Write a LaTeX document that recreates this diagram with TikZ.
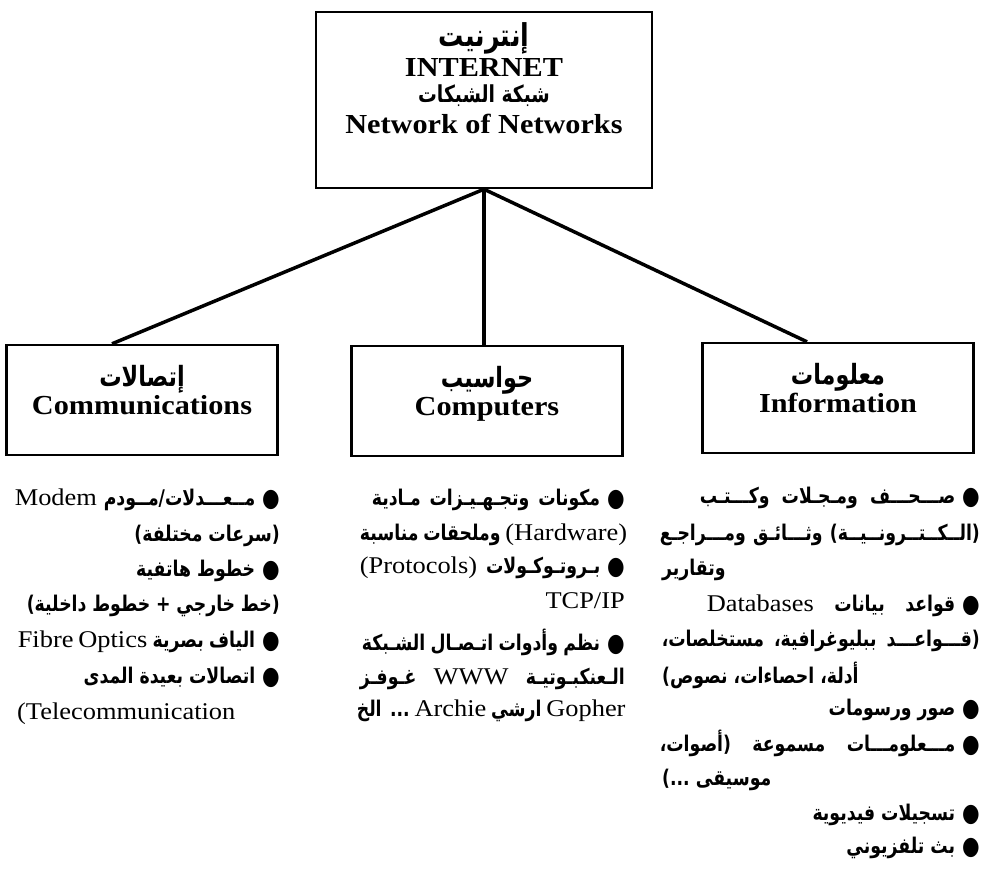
\documentclass[tikz,border=0pt]{standalone}
\usepackage{fontspec}
\setmainfont{Liberation Serif}[FakeStretch=1.1]
\newfontfamily\arabicfont[Script=Arabic,Scale=0.9,FakeStretch=0.8]{DejaVu Sans}
\TeXXeTstate=1
\usetikzlibrary{positioning}
\newcommand\ar{\arabicfont\bfseries}
\newcommand\latn[1]{\beginL{\spaceskip=0pt\rmfamily\mdseries #1}\endL}
\newcommand\bul{{\fontsize{28}{28}\selectfont\raisebox{-1pt}{●}}\hskip 7pt\relax}
\newcommand\jline[2]{\hbox to #1pt{\spaceskip=.3em plus 1fil minus .1em\relax#2}}
\tikzstyle{topbox}=[draw,line width=2.4pt,minimum width=336pt,minimum height=176pt]
\tikzstyle{catbox}=[draw,line width=2.4pt,minimum width=271pt,minimum height=110pt]
\tikzstyle{boxtext}=[anchor=base,inner sep=0pt,font=\fontsize{27.5}{30}\selectfont\bfseries]
\tikzstyle{branch}=[line width=3.5pt]
\tikzstyle{itemR}=[anchor=base east,inner sep=0pt,font=\fontsize{24}{28}\selectfont]
\tikzstyle{itemL}=[anchor=base west,inner sep=0pt,font=\fontsize{24}{28}\selectfont]
\begin{document}
\begin{tikzpicture}[x=1pt,y=-1pt]
\useasboundingbox (0,0) rectangle (985,876);

% top box
\node[topbox] (inet) at (484,100) {};
\node[boxtext,font=\fontsize{35}{35}\selectfont] (inet-ar) at (484,46) {\ar\beginR إنترنيت\endR};
\node[boxtext] (inet-en) at (484,76) {INTERNET};
\node[boxtext,font=\fontsize{26}{26}\selectfont] (nets-ar) at (484,102) {\ar\beginR شبكة الشبكات\endR};
\node[boxtext] (nets-en) at (484,133) {Network of Networks};

% three branches
\node[catbox] (comm) at (142,400) {};
\node[boxtext,font=\fontsize{31}{31}\selectfont] (comm-ar) at (142,386) {\ar\beginR إتصالات\endR};
\node[boxtext] (comm-en) at (142,414) {Communications};
\node[catbox] (comp) at (487,401) {};
\node[boxtext,font=\fontsize{31}{31}\selectfont] (comp-ar) at (487,387) {\ar\beginR حواسيب\endR};
\node[boxtext] (comp-en) at (487,415) {Computers};
\node[catbox] (info) at (838,398) {};
\node[boxtext,font=\fontsize{31}{31}\selectfont] (info-ar) at (838,384) {\ar\beginR معلومات\endR};
\node[boxtext] (info-en) at (838,412) {Information};

\draw[branch] (inet.south) -- ([xshift=-30pt]comm.north);
\draw[branch] (inet.south) -- (inet.south |- comp.north);
\draw[branch] (inet.south) -- ([xshift=-31pt]info.north);

% communications list
\node[itemR] (c1) at (280,505) {\jline{265}{\ar\beginR\bul مــعـــدلات/مــودم \latn{Modem}\endR}};
\node[itemR] (c2) at (280,541) {\ar\beginR (سرعات مختلفة)\endR};
\node[itemR] (c3) at (280,576) {\ar\beginR\bul خطوط هاتفية\endR};
\node[itemR] (c4) at (280,611) {\jline{253}{\ar\beginR (خط خارجي + خطوط داخلية)\endR}};
\node[itemR] (c5) at (280,647) {\jline{262}{\ar\beginR\bul الياف بصرية \latn{Fibre Optics}\endR}};
\node[itemR] (c6) at (280,683) {\ar\beginR\bul اتصالات بعيدة المدى\endR};
\node[itemL] (c7) at (17,719) {(Telecommunication};

% computers list
\node[itemR] (m1) at (625,505) {\jline{253}{\ar\beginR\bul مكونات وتجـهـيـزات مـادية\endR}};
\node[itemR] (m2) at (625,540) {\jline{265}{\ar\beginR\latn{(Hardware)} وملحقات مناسبة\endR}};
\node[itemR] (m3) at (625,573) {\jline{265}{\ar\beginR\bul بـروتـوكـولات \latn{(Protocols)}\endR}};
\node[itemR] (m4) at (625,608) {TCP/IP};
\node[itemR] (m5) at (625,650) {\jline{263}{\ar\beginR\bul نظم وأدوات اتـصـال الشـبكة\endR}};
\node[itemR] (m6) at (625,684) {\jline{265}{\ar\beginR الـعنكبـوتيـة \latn{WWW} غـوفـز\endR}};
\node[itemR] (m7) at (625,716) {\jline{268}{\ar\beginR\latn{Gopher} ارشي \latn{Archie} ... الخ\endR}};

% information list
\node[itemR] (i1) at (980,503) {\jline{280}{\ar\beginR\bul صـــحـــف ومـجـلات وكـــتـب\endR}};
\node[itemR] (i2) at (980,540) {\jline{320}{\ar\beginR (الــكــتــرونــيــة) وثـــائـق ومـــراجـع\endR}};
\node[itemL] (i3) at (662,575) {\ar\beginR وتقارير\endR};
\node[itemR] (i4) at (980,611) {\jline{273}{\ar\beginR\bul قواعد بيانات \latn{Databases}\endR}};
\node[itemR] (i5) at (980,646) {\jline{318}{\ar\beginR (قـــواعـــد ببليوغرافية، مستخلصات،\endR}};
\node[itemL] (i6) at (662,683) {\ar\beginR أدلة، احصاءات، نصوص)\endR};
\node[itemR] (i7) at (980,715) {\ar\beginR\bul صور ورسومات\endR};
\node[itemR] (i8) at (980,751) {\jline{320}{\ar\beginR\bul مـــعلومـــات مسموعة (أصوات،\endR}};
\node[itemL] (i9) at (662,785) {\ar\beginR موسيقى\char"A0...)\endR};
\node[itemR] (i10) at (980,820) {\ar\beginR\bul تسجيلات فيديوية\endR};
\node[itemR] (i11) at (980,853) {\ar\beginR\bul بث تلفزيوني\endR};
\end{tikzpicture}
\end{document}
